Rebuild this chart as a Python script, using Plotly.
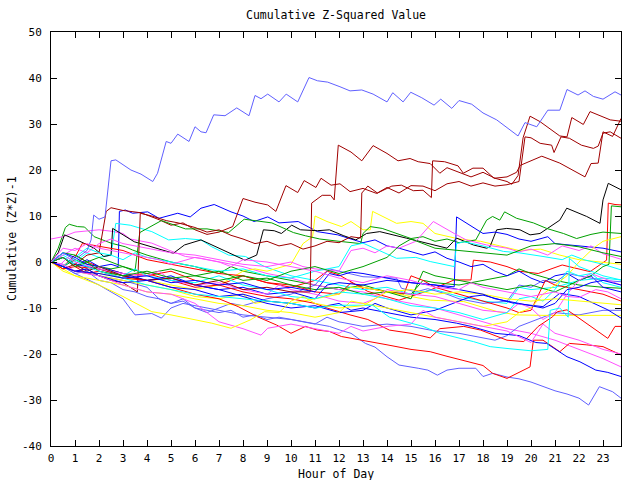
import plotly.graph_objects as go

# ---- colours (gnuplot-like palette) ----
RED = "#ff0000"; DKRED = "#a00000"; GREEN = "#00a000"; BLUE = "#0000ff"
LBLUE = "#6060ff"; MAGENTA = "#ff50ff"; CYAN = "#00ffff"; YELLOW = "#ffff00"; BLACK = "#000000"

# ---- series: (hour, cumulative value) pairs ----
lb1 = [(0,0),(0.5,2),(1,0.5),(1.5,2.5),(1.67,4.8),(1.78,10.2),(2.0,9.3),(2.25,9.8),(2.5,22),(2.7,22.2),(3.33,20),(3.75,19.1),(4.24,17.5),(4.44,19.3),(4.8,26.2),(5.0,25.8),(5.28,27.8),(5.75,26.2),(6.0,29.4),(6.25,28.3),(6.46,28.1),(6.78,32),(7.25,31.8),(7.74,33.5),(8.25,31.8),(8.5,36.2),(8.75,35.5),(9.03,36.5),(9.5,34.8),(9.8,36.5),(10.28,34.8),(10.75,40.1),(11.1,39.4),(11.53,39.1),(12.04,38.1),(12.46,37.2),(12.95,37.4),(13.42,36.5),(14.0,34.8),(14.24,36.8),(14.67,34.8),(14.99,36.9),(15.45,35.7),(15.96,34.1),(16.24,35.4),(16.7,33.4),(17.0,35.1),(17.53,34.3),(18.0,32.4),(18.57,30.9),(19.46,27.4),(19.75,30.3),(20.24,29.4),(20.7,33),(21.2,33),(21.5,37.5),(21.96,36.3),(22.25,37.2),(22.6,36),(23.0,35.4),(23.5,37),(23.75,36.3)]
lb2 = [(0,0),(0.5,-1),(1,-2.5),(1.5,-2),(2,-4),(2.5,-4.5),(3,-6),(3.5,-6.5),(4,-7.5),(4.5,-8),(5,-9),(5.5,-8.5),(6,-10),(6.5,-10.5),(7,-11),(7.5,-10.5),(8,-12),(8.5,-11.5),(9,-12.5),(9.5,-12),(10,-12.5),(10.5,-13),(11,-13.5),(11.6,-14),(12.04,-14.8),(12.5,-15.5),(13.1,-17.7),(13.5,-18.5),(14,-20.6),(14.5,-22.4),(15.3,-23.1),(15.7,-23.5),(16.1,-24.6),(16.5,-23.5),(17,-23.1),(17.7,-23.1),(18,-24.9),(18.4,-24.2),(19,-25),(19.5,-25.4),(20,-26.1),(20.5,-27),(21,-28),(21.5,-28.7),(22,-29.6),(22.4,-31.1),(22.85,-27.1),(23.4,-28.2),(23.75,-29.6)]
lb3 = [(0,0),(0.5,-0.5),(1,-2),(2,-3),(3,-4),(4,-5.5),(4.5,-8),(5,-9),(5.5,-8),(6,-10),(6.5,-11),(7,-10),(7.5,-9),(8,-9.5),(9,-8),(10,-7),(11,-5),(11.6,-1.5),(12.5,-2.5),(13,-3.2),(14.4,-3.5),(14.6,-5.7),(15.2,-6.5),(15.7,-5.8),(16.5,-7),(17,-8),(18,-9),(19,-8.5),(19.5,-5),(20,-5.5),(20.5,-4),(21,-4.5),(21.5,-2.5),(22,-3),(23,-4),(23.75,-4.3)]
lb4 = [(0,0),(0.5,-1),(1,-2.5),(2,-5),(3,-8),(3.5,-11.5),(4.2,-11.2),(4.6,-12.2),(5,-10),(5.5,-9),(6,-9.5),(7,-10.5),(8,-11.5),(9,-12),(10,-12.5),(11,-13.5),(11.5,-12),(12,-13),(13,-14),(14,-13.5),(15,-14),(16,-15),(17,-15.5),(18,-16.5),(18.5,-17),(19,-16),(19.5,-14),(20,-13),(20.5,-12),(21,-11),(22,-11.5),(23,-10.5),(23.75,-10.5)]

dr1 = [(0,0),(0.5,-1.5),(1,-0.5),(1.5,-2),(2,-1),(3,-3),(4,-4),(5,-3.5),(6,-5),(7,-4),(8,-6),(9,-5.5),(10,-6.5),(10.8,-6.5),(10.86,12.8),(11.3,14.5),(11.65,14.5),(11.8,13.5),(11.97,25.4),(12.5,23.9),(12.95,22),(13.42,25.3),(14,23.6),(14.46,22),(14.96,22.5),(15.3,21.8),(15.8,21.4),(16.2,19.3),(16.5,20.5),(17,19.5),(17.5,18.5),(18,19.5),(18.5,18.2),(19,17.5),(19.2,16.9),(19.46,18.8),(19.67,27),(19.96,31.7),(20.38,30.5),(21.2,27.4),(21.5,27.2),(21.7,31.4),(22.18,29.9),(22.46,32.7),(22.9,31.8),(23.3,30.9),(23.75,30.6)]
dr2 = [(0,0),(0.5,-1),(1,-2),(1.5,-1.5),(2,-3),(2.5,-4),(3,-4.5),(3.6,-6.5),(3.72,10.6),(4.2,10),(4.8,9),(5.3,8.5),(6,7.5),(6.5,6.5),(7,7),(7.5,5.8),(8,5),(8.5,4),(9,4.5),(9.5,3.5),(10,4),(10.5,2.8),(11,3.5),(11.5,4.5),(12,4.2),(12.5,5.5),(12.9,5.2),(12.95,15),(13.2,16.5),(13.6,15),(14,16.2),(14.5,15),(15,16.6),(15.5,16.5),(16,15.5),(16.5,17),(17,17.5),(17.5,16.5),(18,17.2),(18.5,16.5),(19,16.8),(19.5,17.5),(19.75,27.2),(20,27),(20.38,25.8),(20.86,25.4),(20.96,23.8),(21.25,27.2),(21.6,26.9),(22.1,25.4),(22.6,24.7),(22.8,25.2),(23.0,28),(23.3,28.3),(23.75,26.9)]
dr3 = [(0,0),(0.5,1),(1,-0.5),(1.5,1.5),(2,2),(2.3,11),(2.5,11.8),(3,11.2),(3.75,10.7),(4.5,9.2),(5,8),(5.5,8.5),(6,7),(6.5,6),(7,6.5),(7.57,7.7),(8,13.8),(8.5,13),(9.03,12.4),(9.37,11),(9.79,16.6),(10.28,15.1),(10.55,17.7),(11.04,16.2),(11.25,18.2),(11.67,16.7),(12.04,17),(12.46,15.3),(13,16),(13.57,14.9),(14.2,16.5),(14.6,16.7),(15.1,15.5),(15.5,15.6),(15.85,14),(15.9,22),(16.4,21.8),(16.96,20.9),(17.18,19.3),(17.58,20.4),(18,20.4),(18.46,18.2),(19,18.5),(19.4,19.5),(19.55,21),(20.45,23),(21.2,21.5),(22.25,18.5),(22.5,21.4),(22.8,21.5),(23.0,28.3),(23.4,27.3),(23.75,31.2)]

bk1 = [(0,0),(0.3,2),(0.56,5.9),(1.2,4.5),(1.8,3.0),(2.2,1.2),(2.5,1.5),(2.57,7.3),(3.47,4.4),(4.58,2.6),(5.1,1.9),(5.56,3.7),(6.25,4.8),(7,3),(8.08,0.4),(8.57,1.5),(8.85,7),(9.3,6.8),(9.6,6.2),(10.03,8),(10.4,7),(11.1,6.8),(11.6,7),(12.2,5.7),(12.7,4.8),(13.15,6.2),(13.7,6.6),(14.8,5.2),(15.9,3.7),(16.5,3.0),(16.9,5.2),(17.6,3.7),(18.15,3.0),(18.29,3.3),(18.57,7),(18.99,7.3),(19.54,7),(19.96,5.9),(20.375,6.2),(20.79,7.7),(21.2,9.1),(21.49,11.7),(22.32,9.9),(22.875,8.4),(23.0,13.5),(23.22,17.1),(23.75,15.7)]

red1 = [(0,0),(0.5,-1),(1,1.5),(1.5,0),(2,-1),(3,-2.5),(4,-3),(5,-2),(6,-4),(7,-5),(8,-3),(9,-4.5),(10,-5.5),(11,-4),(11.5,-2),(12,-2.8),(13.2,-6.4),(14.5,-8.3),(15.8,-6.1),(16.8,-3.9),(17.5,-3.9),(17.6,0.4),(18.3,0),(19,-1),(19.5,-2),(20.3,-2.5),(21.3,-0.65),(22,-1.5),(22.46,-2.1),(23.15,0.4),(23.22,12.8),(23.5,12.5),(23.75,12.4)]
red2 = [(0,0),(0.5,1),(1,-1),(2,-1.5),(3,-3),(4,-2.5),(5,-4),(6,-5.5),(7,-5),(8,-6.5),(9,-7.5),(10,-8),(11,-9),(11.5,-10),(12.46,-11.5),(13.2,-12.5),(14.1,-14.8),(15,-15.5),(15.8,-16.5),(16.2,-14.5),(17.2,-14),(17.9,-14.8),(19,-17),(19.7,-17.3),(20.3,-14),(20.9,-11.9),(21.1,-10.8),(21.5,-10.4),(22,-12.2),(23.2,-16.6),(23.5,-14),(23.75,-14)]
red3 = [(0,0),(0.5,-1.5),(1,-1),(1.5,-2.5),(2,-2),(3,-3.5),(4,-4),(5,-5.5),(6,-7),(7,-8),(7.8,-9.7),(8.6,-11.9),(9.4,-13.7),(10,-15.5),(10.6,-14),(11.1,-14.8),(11.6,-15.1),(12.1,-16.2),(13,-17),(14,-18),(15,-19),(15.8,-19.5),(16.5,-20.5),(17.2,-21.5),(18,-22.5),(18.4,-24.2),(19,-25.3),(19.5,-24),(19.96,-22.8),(20.1,-17),(20.5,-17),(21.2,-19.5),(21.6,-17.7),(22.3,-18),(23,-18.4),(23.75,-20.2)]
red4 = [(0,0),(0.5,-1),(1,1),(1.3,4),(1.7,3.7),(2.5,3),(3,2.5),(3.5,1.5),(4,0.5),(5,-0.5),(6,-1.5),(7,-2.5),(8,-3),(9,-4.5),(10,-5),(11,-6.5),(12,-7),(12.5,-4.5),(13,-5.5),(14,-6.5),(14.7,-7),(15,-3),(15.5,-4),(16,-5.5),(17,-7),(18,-8.5),(19,-10),(19.5,-11),(20,-10.5),(20.6,-4),(21,-5),(22,-6),(23,-7),(23.75,-8.5)]

grn1 = [(0,0),(0.5,2),(1,1.5),(1.5,0),(2,1),(3,-1),(4,-2.5),(5,-1.5),(6,-3),(7,-2),(8,-4),(9,-3.5),(10,-5),(11,-6),(12,-5.5),(13,-7),(14,-6.5),(15,-8),(15.5,-2),(16,-3),(17,-4),(18,-5),(19,-6),(20,-5),(21,-6.5),(22,-4),(22.5,-3),(23.0,-1),(23.25,-0.5),(23.35,12.2),(23.75,12)]
grn2 = [(0,0),(0.3,3),(0.6,7.5),(0.76,8.2),(1.1,7.7),(1.4,7.6),(1.8,5.5),(2.5,4.1),(3.1,3.3),(3.4,2.6),(4,1.5),(5,0),(6,-1),(7,-2.5),(7.5,-1),(8,-2),(9,-3),(10,-4),(11,-5),(12,-6),(13,-5),(14,-6.5),(15,-7),(15.5,-4),(16,-4.5),(17,-5),(18,-4),(19,-3),(19.5,-1.5),(20,-2.5),(21,-4),(22,-5),(23,-5.5),(23.75,-5.7)]
grn3 = [(0,0),(0.5,-1),(1,0.5),(1.5,-0.5),(2,-1),(2.5,-1.5),(3,-1),(3.5,-2),(3.7,6.4),(4.6,9),(5.6,7.2),(6.5,7.2),(7.4,6.4),(8.05,9.3),(9.2,8.5),(10.1,6.4),(10.6,5.7),(11.2,5),(12,4.5),(12.9,4),(13,6.2),(13.3,7.7),(13.8,7.3),(14.4,6.2),(15,5.1),(15.5,5.5),(16,4.5),(16.5,5),(17,4.2),(17.7,4.8),(18.15,9.1),(18.4,9.9),(18.7,9.1),(18.9,10.9),(19.4,9.5),(20.1,8.5),(20.65,7.3),(21.35,6.2),(21.9,5.1),(22.5,6),(23,6.5),(23.75,6.2)]
grn4 = [(0,0),(0.5,1),(1,-1),(1.5,0),(2,-2),(3,-3),(4,-2),(5,-3.5),(6,-3),(7,-4),(8,-3),(9,-4),(10,-2),(11,-1),(12,-2.5),(13,-1),(13.5,0),(14,1),(14.5,3.5),(15,5),(15.5,4),(16,3),(17,2.5),(18,2),(19,1.5),(19.5,2.5),(20,3.5),(21,4),(22,3.3),(23,2),(23.75,1.2)]

blu1 = [(0,0),(0.5,1),(1,-1),(1.5,0.5),(2,-1),(2.5,-0.5),(2.8,-1),(2.85,11),(3.1,11.3),(3.4,10.6),(4.03,10.9),(4.5,9.5),(5.28,10.6),(5.8,9.8),(6.25,11.7),(6.8,12.5),(7.5,10.9),(8,10),(8.46,8.8),(9.03,9.8),(9.5,8.5),(10.3,8.8),(11.1,6.6),(11.95,5.9),(12.5,5),(13,4.2),(13.5,4.8),(14,3.5),(14.5,3),(15,2.2),(15.5,1.5),(16,2.2),(16.5,0.8),(17,0),(17.5,-1),(18,-0.5),(18.5,-2),(19,-3),(19.5,-2),(20,-3.5),(20.5,-4.5),(21,-3),(21.5,-2.5),(22,-4),(22.5,-3),(23,-5.5),(23.75,-6.5)]
blu2 = [(0,0),(0.5,1),(1,-0.5),(2,-1.5),(3,-3),(4,-4),(5,-3.5),(6,-5),(7,-6),(8,-5.5),(9,-7),(10,-6.5),(11,-8),(11.5,-5),(12,-4.5),(13,-5),(14,-4),(15,-4.5),(16,-5),(16.8,-5.4),(16.9,9.8),(18,6.2),(18.5,6.5),(19,6),(19.5,5),(20,4.5),(20.7,5.5),(21,4),(22,3.5),(23,3),(23.75,2.2)]
blu3 = [(0,0),(0.5,2),(1,1),(1.5,-0.5),(2,-1),(3,-2.5),(4,-4),(5,-3),(6,-5),(7,-6),(8,-7.5),(9,-9),(10,-10),(11,-9.5),(12,-11),(13,-10.5),(13.5,-9),(14,-10),(15,-11.5),(16,-10.5),(17,-8.5),(17.5,-7.5),(18,-7.2),(19.3,-9),(20.5,-9.7),(21.2,-6.8),(22,-7.5),(23.2,-10.4),(23.75,-12.2)]
blu4 = [(0,0),(0.5,-1),(1,-2),(1.5,-1.5),(2,-3),(3,-4.5),(4,-4),(5,-5.5),(6,-6),(7,-7.5),(8,-7),(9,-8.5),(10,-9),(11,-10),(12,-9),(12.5,-10.5),(13,-10),(14,-11),(15,-12),(16,-12.5),(16.9,-13.3),(17.5,-14),(18.5,-15.5),(19.5,-16),(20.2,-17.5),(20.65,-17.7),(21.5,-20.6),(22.04,-21.7),(22.7,-23.5),(23.2,-24),(23.75,-24.9)]
blu5 = [(0,0),(0.5,-1),(1,-2),(2,-2.5),(3,-3.5),(4,-3),(5,-4.5),(6,-4),(7,-5),(8,-4.5),(9,-6),(10,-5.5),(11,-6.5),(11.6,-2.5),(12,-3),(12.5,-2.2),(13,-2.5),(14,-3.5),(15,-4.5),(16,-5),(17,-6),(18,-7),(18.5,-8),(19,-8.5),(20,-9.5),(20.5,-10),(21,-9),(21.5,-6),(22,-5.5),(22.5,-4.5),(23,-4),(23.75,-5)]

mag1 = [(0,5),(0.5,5.5),(1,6.5),(1.5,6.8),(2,7),(2.5,6.7),(3,6.2),(3.3,5),(4.2,4.1),(4.9,2.6),(5.6,1.2),(6.25,0.8),(7,0),(8,-1),(9,-2.5),(10,-3.5),(11,-5),(12,-6),(13,-6.5),(14,-8),(15,-9),(16,-10),(17,-11.5),(18,-13),(19,-14.5),(20,-15.5),(21,-17),(22,-19),(23,-21),(23.75,-22.8)]
mag2 = [(0,0),(0.5,1.5),(1,3),(1.5,2),(2,4),(2.5,5),(3,4),(4,3),(5,2),(6,1.5),(7,0.5),(8,-0.5),(9,-1),(10,0),(10.5,-1),(11,-1.5),(12,-2),(12.5,2.5),(13,3),(13.5,2),(14,3.5),(14.5,3),(15.2,4.5),(15.93,8.8),(16.8,6.2),(17.3,4.8),(18.15,3.7),(19,3),(19.5,2.2),(20,2.8),(20.7,1.5),(21.3,3.5),(22,2.5),(22.5,3.5),(23,1.8),(23.75,0.6)]
mag3 = [(0,0),(0.3,-1),(0.7,1),(1,0),(2,-1.5),(3,-2.5),(4,-3),(4.5,-2),(5,-4),(6,-5),(7,-4.5),(8,-6),(9,-7),(9.5,-5),(10,-6),(11,-7),(12,-8.5),(13,-9),(13.5,-8),(14,-6),(15,-7),(16,-7.5),(17,-9),(18,-10.5),(19,-11),(19.5,-9),(20,-10),(20.5,-12.5),(21,-11),(21.5,-7),(22,-4),(22.5,-2.5),(23,-3.5),(23.75,-5)]
mag4 = [(0,0),(0.5,-0.5),(1,-2),(2,-3),(3,-5),(4,-6.5),(5,-7),(6,-9),(7,-13),(8,-14.5),(8.75,-15.9),(9.03,-14.4),(10,-13.5),(11,-14.5),(12,-15.5),(12.5,-14),(13,-15),(14,-14),(15,-13.5),(15.5,-10.5),(16,-12),(17,-13),(18,-14),(19,-15),(20,-17.5),(20.5,-13.5),(21,-15.5),(22,-17),(23,-19),(23.75,-20)]
mag5 = [(0,0),(0.5,3),(1,2.5),(1.5,4),(2,3),(3,2),(4,1),(4.5,0.5),(5,-0.5),(6,1),(7,0),(7.5,-1),(8,0.5),(9,0),(10,-1),(11,-2),(12,-3.5),(13,-4.5),(14,-3),(15,-4),(16,-5.5),(17,-6),(17.5,-4.5),(18,-5.5),(19,-6.5),(20,-7.5),(21,-6.5),(21.5,-7.5),(22,-7.7),(22.7,-6),(23.2,-6.5),(23.75,-8)]

cyn1 = [(0,0),(0.5,2),(1,0.5),(1.5,-1),(2,-2),(3,-3.5),(4,-5),(5,-6),(6,-7),(7,-7.5),(8,-8),(9,-8.5),(10,-9),(11,-10),(12,-9.4),(13.4,-9.4),(14.1,-12),(15.5,-14),(16.2,-15.5),(17.6,-17.3),(18.3,-18.4),(19,-18.8),(20,-19.3),(20.7,-19),(20.8,-10.5),(21.2,-10),(21.55,-12),(21.6,0.8),(22,-1),(22.5,-2),(23,-3),(23.75,-3.9)]
cyn2 = [(0,0),(0.5,-1),(1,1),(1.5,3),(2,2),(2.5,1.5),(3,0.5),(3.5,2),(4,1),(5,0),(6,-1),(7,-2),(8,-1.5),(9,-3),(10,-3.5),(11,-2),(12,-1),(12.5,3.5),(13,4.1),(14.4,0.8),(15.2,1),(15.8,0.1),(16.8,-1),(16.9,4),(17.2,4.4),(18,3.5),(18.85,2.3),(19.5,2),(20.5,1.2),(21.3,0.5),(21.7,1.5),(22.2,0.5),(23,-0.5),(23.75,-1.7)]
cyn3 = [(0,0),(0.5,1),(1,-0.5),(1.5,-2),(2,-1),(3,-3),(3.5,-1.5),(4,-3),(5,-4),(6,-4.5),(7,-3),(8,-5),(9,-6),(10,-7.5),(11,-8),(12,-6.5),(13,-7),(14,-8),(15,-9.5),(16,-10),(17,-11),(18,-12.5),(19,-11),(19.5,-8),(20,-7.5),(20.5,-8.5),(21,-6),(21.5,-2),(22,-3),(22.5,-2.5),(23,-4.5),(23.75,-5.5)]
cyn4 = [(0,0),(0.5,1.5),(1,0),(1.5,2),(2,1),(2.5,1.5),(2.7,8.4),(3.3,8),(4.2,6.6),(4.9,4.8),(5.6,5.1),(6.25,4.8),(6.7,3.3),(7.4,1.5),(8.1,1.2),(8.9,-1),(10,-3),(11,-4),(12,-5),(13,-6),(14,-5.5),(15,-7),(16,-6),(17,-7.5),(18,-8.5),(19,-9),(19.5,-5.5),(20,-6),(21,-5.5),(22,-4),(23,-3.5),(23.75,-3.9)]

yel1 = [(0,0),(0.5,-1),(1,-2),(2,-3),(3,-4),(4,-5),(5,-6),(6,-7.5),(7,-8),(8,-7),(8.5,-9),(9,-8.5),(10,-9),(11,-8),(12,-7),(12.5,-5.5),(13,-5.5),(14,-6.5),(15,-7.5),(15.8,-8.3),(17.2,-8.6),(18.6,-10.8),(19.4,-11.5),(20.5,-11.6),(23.75,-11.6)]
yel2 = [(0,0),(0.5,-1),(1,-2),(2,-2.5),(3,-3.5),(4,-4),(5,-5),(6,-6),(7,-5),(8,-2),(8.5,-1.5),(9,-2),(10,-0.5),(10.5,4),(10.9,5.5),(11,10),(11.5,8.8),(12.1,7.7),(12.5,8.8),(13,7),(13.3,7),(13.4,11),(14.4,8.4),(15,8.8),(15.5,8.4),(16,6.2),(17,5),(17.9,4.5),(18.7,3.5),(19.5,2.5),(20.4,2.8),(21.2,1.5),(22,0.5),(22.8,0),(23.75,-0.5)]
yel3 = [(0,0),(0.5,-1.5),(1,-3),(2,-4),(3,-5),(4,-6.5),(5,-7),(6,-8),(7,-9),(8,-9.5),(9,-10.5),(10,-11),(11,-12),(12,-11),(12.5,-8.5),(13,-9),(14,-10),(15,-11),(16,-12),(17,-13),(18,-14),(19,-13),(19.5,-11),(20,-10),(20.5,-7),(21,-5),(21.5,-3),(22,0),(22.6,3),(23,4.5),(23.75,5.5)]
yel4 = [(0,0),(0.5,-2),(1,-3),(2,-5),(3,-7.5),(4.2,-10.8),(5,-11.5),(6,-12.5),(6.7,-13.3),(7.5,-14.4),(8.3,-12.6),(8.9,-10.8),(9.5,-11),(10,-8.5),(10.5,-7.5),(11,-9),(12,-10),(13,-9.5),(13.5,-8),(14,-6.5),(15,-6),(16,-7),(17,-6.5),(18,-7),(19,-8),(20,-8.5),(21,-8),(22,-8.5),(23,-9),(23.75,-9.3)]

series = [
    (red1, RED), (grn2, GREEN), (blu1, BLUE), (mag1, MAGENTA), (cyn4, CYAN), (dr3, DKRED), (lb3, LBLUE), (yel2, YELLOW), (bk1, BLACK),
    (red4, RED), (grn3, GREEN), (blu2, BLUE), (mag2, MAGENTA), (cyn2, CYAN), (dr2, DKRED), (lb4, LBLUE), (yel1, YELLOW),
    (red2, RED), (grn1, GREEN), (blu3, BLUE), (mag3, MAGENTA), (cyn3, CYAN), (dr1, DKRED), (lb2, LBLUE), (yel3, YELLOW),
    (red3, RED), (grn4, GREEN), (blu4, BLUE), (mag4, MAGENTA), (cyn1, CYAN), (lb1, LBLUE), (yel4, YELLOW),
    (blu5, BLUE), (mag5, MAGENTA),
]

x_ticks = list(range(0, 24))
y_ticks = list(range(-40, 51, 10))

FONT = "DejaVu Sans Mono"
fig = go.Figure()
for pts, col in series:
    fig.add_trace(go.Scatter(x=[p[0] for p in pts], y=[p[1] for p in pts], mode="lines",
                             line=dict(color=col, width=1), hoverinfo="skip", showlegend=False))

axis_common = dict(showgrid=False, zeroline=False, showline=True, linecolor="black", linewidth=1,
                   ticks="inside", ticklen=6, tickcolor="black", tickwidth=1, mirror="ticks",
                   tickfont=dict(family=FONT, size=11, color="black"))
fig.update_xaxes(range=[0, 23.75], tickvals=x_ticks, ticktext=[str(v) for v in x_ticks],
                 ticklabelstandoff=2, **axis_common)
fig.update_yaxes(range=[-40, 50], tickvals=y_ticks, ticktext=[str(v) for v in y_ticks],
                 ticklabelstandoff=6, **axis_common)

fig.update_layout(
    width=640, height=480, margin=dict(l=51, r=19, t=32, b=34),
    paper_bgcolor="white", plot_bgcolor="white", showlegend=False,
    annotations=[
        dict(text="Cumulative Z-Squared Value", xref="paper", yref="paper", x=0.5, y=(446 - 15) / 414,
             showarrow=False, xanchor="center", yanchor="middle", font=dict(family=FONT, size=11.5, color="black")),
        dict(text="Hour of Day", xref="paper", yref="paper", x=0.5, y=(446 - 474) / 414,
             showarrow=False, xanchor="center", yanchor="middle", font=dict(family=FONT, size=11.5, color="black")),
        dict(text="Cumulative (Z*Z)-1", xref="paper", yref="paper", x=(12 - 51) / 570, y=0.5, textangle=-90,
             showarrow=False, xanchor="center", yanchor="middle", font=dict(family=FONT, size=11.5, color="black")),
    ],
)

fig.write_html("out.html")
